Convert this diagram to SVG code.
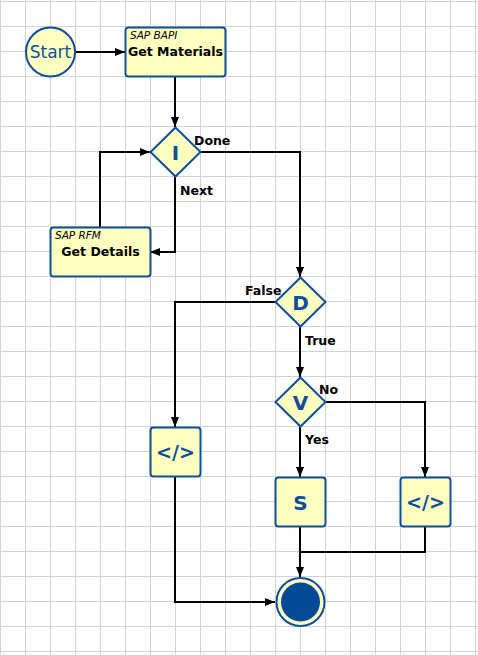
<svg xmlns="http://www.w3.org/2000/svg" width="478" height="655" viewBox="0 0 478 655">
<defs>
<pattern id="grid" x="0" y="1" width="25" height="25" patternUnits="userSpaceOnUse">
<path d="M0.5 0 V25 M0 0.5 H25" fill="none" stroke="#d3d3d3" stroke-width="1"/>
</pattern>
<marker id="arr" viewBox="0 0 10 10" refX="10" refY="5" markerWidth="10" markerHeight="10" markerUnits="userSpaceOnUse" orient="auto">
<path d="M0 1 L10 5 L0 9 Z" fill="#000"/>
</marker>
<style>
.shape{fill:#ffffc0;stroke:#0d4f9c;stroke-width:2}
.conn{fill:none;stroke:#000;stroke-width:2}
.sym{font-family:"DejaVu Sans",sans-serif;font-weight:bold;fill:#0d4f9c;text-anchor:middle}
.title{font-family:"DejaVu Sans",sans-serif;font-weight:bold;font-size:12.5px;fill:#000;text-anchor:middle}
.sub{font-family:"DejaVu Sans",sans-serif;font-style:italic;font-size:10.5px;fill:#000}
.lbl{font-family:"DejaVu Sans",sans-serif;font-weight:bold;font-size:12.5px;fill:#000}
</style>
</defs>
<rect width="478" height="655" fill="#fff"/>
<rect width="478" height="655" fill="url(#grid)"/>

<g id="connectors">
<path class="conn" d="M76 52 H125" marker-end="url(#arr)"/>
<path class="conn" d="M175 77 V127" marker-end="url(#arr)"/>
<path class="conn" d="M200 152 H300 V277" marker-end="url(#arr)"/>
<path class="conn" d="M175 177 V252 H150" marker-end="url(#arr)"/>
<path class="conn" d="M100 227 V152 H150" marker-end="url(#arr)"/>
<path class="conn" d="M275 302 H175 V427" marker-end="url(#arr)"/>
<path class="conn" d="M300 327 V377" marker-end="url(#arr)"/>
<path class="conn" d="M325 402 H425 V477" marker-end="url(#arr)"/>
<path class="conn" d="M300 427 V477" marker-end="url(#arr)"/>
<path class="conn" d="M300 527 V577" marker-end="url(#arr)"/>
<path class="conn" d="M425 527 V552 H300"/>
<path class="conn" d="M175 477 V602 H275" marker-end="url(#arr)"/>
<text class="lbl" x="194" y="145">Done</text>
<text class="lbl" x="180" y="195">Next</text>
<text class="lbl" x="245" y="295">False</text>
<text class="lbl" x="305" y="345">True</text>
<text class="lbl" x="319" y="394">No</text>
<text class="lbl" x="305" y="444">Yes</text>
</g>

<g id="start">
<circle class="shape" cx="50.5" cy="52" r="24.5"/>
<text x="50.5" y="58" font-family="DejaVu Sans, sans-serif" font-size="17" fill="#0d4f9c" text-anchor="middle">Start</text>
</g>

<g id="get-materials">
<rect class="shape" x="125.5" y="27.5" width="100" height="49" rx="3"/>
<text class="sub" x="130" y="38.5">SAP BAPI</text>
<text class="title" x="175.5" y="55.5">Get Materials</text>
</g>

<g id="loop-i">
<path class="shape" d="M175.5 127.5 L200.5 152 L175.5 176.5 L150.5 152 Z"/>
<text class="sym" x="175.5" y="159.5" font-size="20">I</text>
</g>

<g id="get-details">
<rect class="shape" x="50.5" y="227.5" width="100" height="49" rx="3"/>
<text class="sub" x="55" y="239">SAP RFM</text>
<text class="title" x="100.5" y="255.5">Get Details</text>
</g>

<g id="decision-d">
<path class="shape" d="M300.5 277.5 L325.5 302 L300.5 326.5 L275.5 302 Z"/>
<text class="sym" x="300.5" y="309.5" font-size="20">D</text>
</g>

<g id="decision-v">
<path class="shape" d="M300.5 377.5 L325.5 402 L300.5 426.5 L275.5 402 Z"/>
<text class="sym" x="300.5" y="409.5" font-size="20">V</text>
</g>

<g id="code-left">
<rect class="shape" x="150.5" y="427.5" width="50" height="49" rx="3"/>
<text class="sym" x="175.5" y="459" font-size="19">&lt;/&gt;</text>
</g>

<g id="step-s">
<rect class="shape" x="275.5" y="477.5" width="50" height="49" rx="3"/>
<text class="sym" x="300.5" y="509.5" font-size="20">S</text>
</g>

<g id="code-right">
<rect class="shape" x="400.5" y="477.5" width="50" height="49" rx="3"/>
<text class="sym" x="425.5" y="509" font-size="19">&lt;/&gt;</text>
</g>

<g id="end">
<circle cx="300.5" cy="602" r="24" fill="#ffffc0" stroke="#0d4f9c" stroke-width="2"/>
<circle cx="300.5" cy="602" r="19.5" fill="#044a96"/>
</g>
</svg>
